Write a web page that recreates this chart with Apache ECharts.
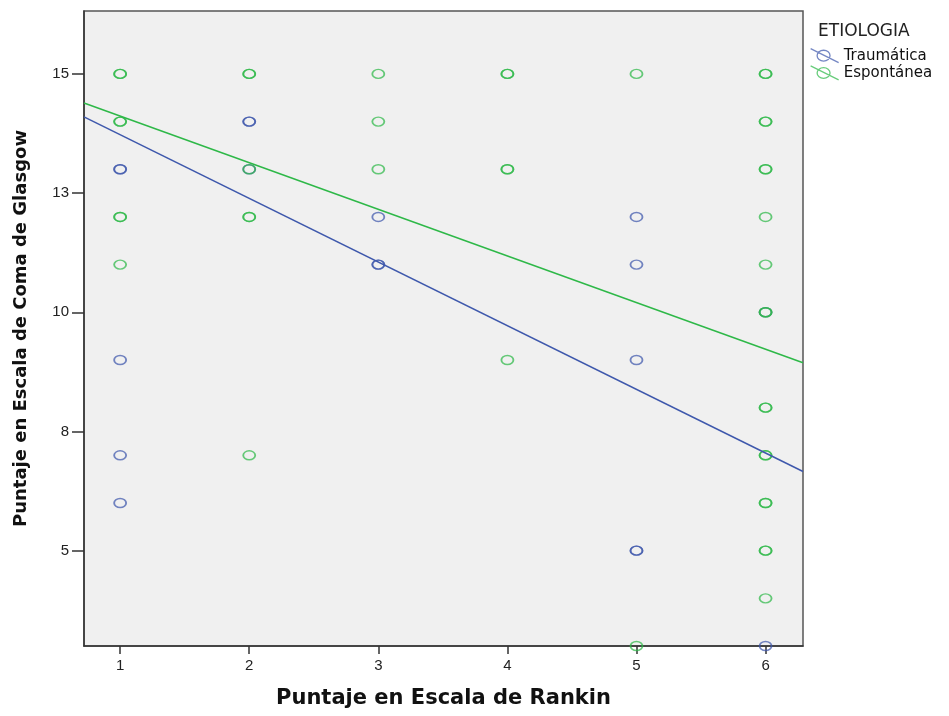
<!DOCTYPE html>
<html>
<head>
<meta charset="utf-8">
<script src="https://cdn.jsdelivr.net/npm/echarts@6/dist/echarts.min.js"></script>
<style>
  html, body { margin: 0; padding: 0; background: #ffffff; }
  #chart { width: 949px; height: 716px; }
</style>
</head>
<body>
<div id="chart"></div>
<script>
// ---- Data ----
var seriesNames = ['Traumática', 'Espontánea'];

// Traumática (blue) points; repeated entries = overlapping cases
var traumaX = [1, 1, 1, 1, 1, 2, 2, 2, 3, 3, 3, 5, 5, 5, 5, 5, 6, 6];
var traumaY = [13, 13, 9, 7, 6, 14, 14, 13, 12, 11, 11, 12, 11, 9, 5, 5, 10, 3];

// Espontánea (green) points
var espX = [1, 1, 1, 1, 1, 1, 1,
            2, 2, 2, 2, 2, 2,
            3, 3, 3,
            4, 4, 4, 4, 4,
            5, 5,
            6, 6, 6, 6, 6, 6, 6, 6, 6, 6, 6, 6, 6, 6, 6, 6, 6, 6, 6, 6, 6];
var espY = [15, 15, 14, 14, 12, 12, 11,
            15, 15, 13, 12, 12, 7,
            15, 14, 13,
            15, 15, 13, 13, 9,
            15, 3,
            15, 15, 14, 14, 13, 13, 12, 11, 10, 10, 8, 8, 7, 7, 6, 6, 5, 5, 4];

// Fit lines (endpoints at the axis limits)
var fitX = [0.72, 6.29];
var traumaFitY = [14.10, 6.66];
var espFitY = [14.39, 8.94];

// Axes
var xMin = 0.72, xMax = 6.29;
var yMin = 3, yMax = 16.32;
var xTicks = [1, 2, 3, 4, 5, 6];
var yTicks = [5, 7.5, 10, 12.5, 15];
var yTickLabels = ['5', '8', '10', '13', '15'];

var xTitle = 'Puntaje en Escala de Rankin';
var yTitle = 'Puntaje en Escala de Coma de Glasgow';
var legendTitle = 'ETIOLOGIA';

// ---- Build chart ----
var colors = ['#3e58ac', '#2eb848'];
function pairs(xs, ys) { return xs.map(function (x, i) { return [x, ys[i]]; }); }

var legendIcon = 'path://M0,2 L26,15 M6,8.5 A6,5 0 1,1 18,8.5 A6,5 0 1,1 6,8.5 Z';

var chart = echarts.init(document.getElementById('chart'), null, { renderer: 'canvas' });
var font = '"Liberation Sans", Arial, sans-serif';
var wide = '"DejaVu Sans", sans-serif';

chart.setOption({
  backgroundColor: '#ffffff',
  animation: false,
  title: {
    text: legendTitle,
    left: 813, top: 18,
    textStyle: { fontFamily: wide, fontSize: 17, fontWeight: 'normal', color: '#222' }
  },
  legend: {
    left: 805, top: 43,
    orient: 'vertical',
    itemGap: 2,
    itemWidth: 32, itemHeight: 14,
    textStyle: { fontFamily: wide, fontSize: 15, color: '#111', padding: [0, 0, 0, -2] },
    data: [
      { name: seriesNames[0], icon: legendIcon, itemStyle: { color: 'transparent', borderColor: colors[0], borderWidth: 1.3 } },
      { name: seriesNames[1], icon: legendIcon, itemStyle: { color: 'transparent', borderColor: colors[1], borderWidth: 1.3 } }
    ]
  },
  grid: {
    left: 84, top: 11, right: 146, bottom: 70,
    show: true, backgroundColor: '#f0f0f0', borderColor: '#555', borderWidth: 1.5
  },
  xAxis: {
    type: 'value', min: xMin, max: xMax,
    name: xTitle, nameLocation: 'middle', nameGap: 42,
    nameTextStyle: { fontFamily: wide, fontSize: 21, fontWeight: 'bold', color: '#111' },
    splitLine: { show: false },
    axisLine: { show: true, lineStyle: { color: '#333', width: 1.5 } },
    axisTick: { show: true, length: 8, customValues: xTicks, lineStyle: { color: '#333', width: 1.5 } },
    axisLabel: { customValues: xTicks, margin: 12, fontFamily: font, fontSize: 15, color: '#222' }
  },
  yAxis: {
    type: 'value', min: yMin, max: yMax,
    name: yTitle, nameLocation: 'middle', nameGap: 54, nameRotate: 90,
    nameTextStyle: { fontFamily: wide, fontSize: 18, fontWeight: 'bold', color: '#111' },
    splitLine: { show: false },
    axisLine: { show: true, lineStyle: { color: '#333', width: 1.5 } },
    axisTick: { show: true, length: 12, customValues: yTicks, lineStyle: { color: '#333', width: 1.5 } },
    axisLabel: {
      customValues: yTicks, margin: 15, fontFamily: font, fontSize: 15, color: '#222',
      formatter: function (v) { var i = yTicks.indexOf(v); return i >= 0 ? yTickLabels[i] : ''; }
    }
  },
  series: [
    {
      name: seriesNames[0], type: 'scatter', symbol: 'circle', symbolSize: [12, 9],
      data: pairs(traumaX, traumaY),
      itemStyle: { color: 'transparent', borderColor: colors[0], borderWidth: 1.6, opacity: 0.72 },
      z: 3
    },
    {
      name: seriesNames[1], type: 'scatter', symbol: 'circle', symbolSize: [12, 9],
      data: pairs(espX, espY),
      itemStyle: { color: 'transparent', borderColor: colors[1], borderWidth: 1.6, opacity: 0.72 },
      z: 3
    },
    {
      name: 'fit1', type: 'line', data: pairs(fitX, traumaFitY), showSymbol: false, silent: true,
      lineStyle: { color: colors[0], width: 1.5 }, z: 4
    },
    {
      name: 'fit2', type: 'line', data: pairs(fitX, espFitY), showSymbol: false, silent: true,
      lineStyle: { color: colors[1], width: 1.5 }, z: 4
    }
  ]
});
</script>
</body>
</html>
